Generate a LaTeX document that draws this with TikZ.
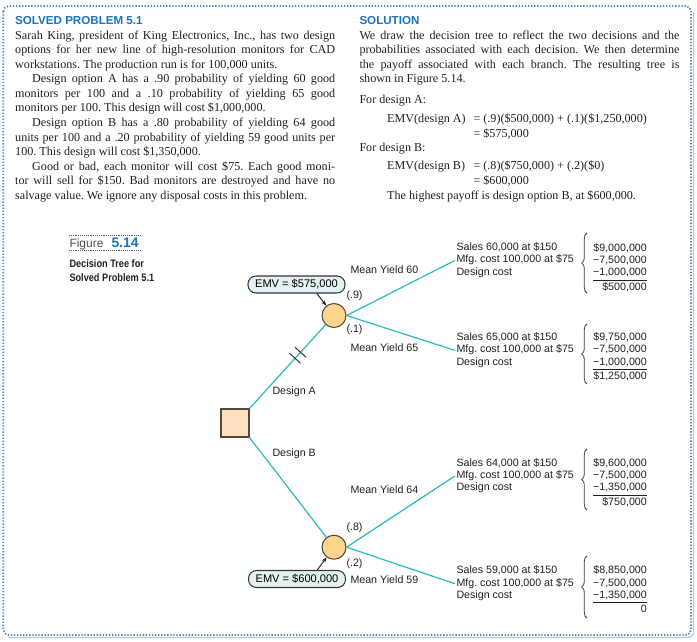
\documentclass[tikz,border=0pt]{standalone}
\usepackage{fontspec}
\setmainfont{Liberation Serif}
\setsansfont{Liberation Sans}
\newfontfamily\capfont[FakeStretch=0.85]{Liberation Sans}
\usetikzlibrary{arrows.meta,decorations.pathreplacing}
\frenchspacing

\newcommand{\outcome}[1]{\begin{tabular}[t]{@{}l@{}}Sales #1 at \$150\\Mfg. cost 100,000 at \$75\\Design cost\end{tabular}}
\newcommand{\payoff}[4]{\begin{tabular}[t]{@{}r@{}}#1\\#2\\#3\\\hline\rule{0pt}{7.5pt}#4\end{tabular}}

\tikzset{every picture/.style={line width=0.75pt}}
\tikzset{
  branch/.style={color={rgb, 255:red, 43; green, 187; blue, 181 }, line width=0.9pt},
  chance/.style={circle, draw={rgb, 255:red, 85; green, 72; blue, 60 }, fill={rgb, 255:red, 253; green, 213; blue, 140 }, minimum size=18pt, inner sep=0pt, line width=0.8pt},
  decision/.style={rectangle, draw={rgb, 255:red, 85; green, 72; blue, 60 }, fill={rgb, 255:red, 253; green, 224; blue, 192 }, minimum size=21pt, inner sep=0pt, line width=0.8pt},
  emvbox/.style={rectangle, rounded corners=6pt, draw={rgb, 255:red, 55; green, 55; blue, 55 }, fill={rgb, 255:red, 226; green, 242; blue, 242 }, minimum width=72.75pt, minimum height=12.75pt, inner sep=0pt, line width=0.8pt, font=\sffamily\fontsize{8.3}{9}\selectfont},
  treetext/.style={inner sep=0.75pt, font=\sffamily\fontsize{8}{9.3}\selectfont, color={rgb, 255:red, 35; green, 31; blue, 32 }},
  bodytext/.style={inner sep=0pt, font=\fontsize{9.1}{10.9}\selectfont, color={rgb, 255:red, 35; green, 31; blue, 32 }},
  headtext/.style={inner sep=0pt, font=\sffamily\bfseries\fontsize{8.7}{10}\selectfont, color={rgb, 255:red, 24; green, 115; blue, 190 }},
  bracestyle/.style={decorate, decoration={brace, amplitude=4pt}, color={rgb, 255:red, 60; green, 60; blue, 60 }, line width=0.6pt}
}

\begin{document}
\begin{tikzpicture}[x=0.75pt,y=0.75pt,yscale=-1,xscale=1]
\useasboundingbox (0,0) rectangle (697,642);

%Shape: Rectangle (dotted frame)
\draw [color={rgb, 255:red, 200; green, 200; blue, 200 }, line width=1pt] (8,637.5) -- (690,637.5) -- (693.5,634) -- (693.5,12) ;
\draw [color={rgb, 255:red, 70; green, 140; blue, 205 }, line width=1.3pt, dash pattern={on 1pt off 1.3pt}, rounded corners=4pt] (3.3,6) rectangle (691,635) ;

% Text Node
\node (probhead) [headtext, anchor=base west] at (14.7,25) {SOLVED PROBLEM 5.1};
% Text Node
\node (probtext) [bodytext, anchor=base west] at (14.7,39.3) {\begin{minipage}[t]{240pt}\setlength\parindent{12.75pt}\noindent
Sarah King, president of King Electronics, Inc., has two design\linebreak options for her new line of high-resolution monitors for CAD\linebreak workstations. The production run is for 100,000 units.\par
Design option A has a .90 probability of yielding 60 good\linebreak monitors per 100 and a .10 probability of yielding 65 good\linebreak monitors per 100. This design will cost \$1,000,000.\par
Design option B has a .80 probability of yielding 64 good\linebreak units per 100 and a .20 probability of yielding 59 good units per\linebreak 100. This design will cost \$1,350,000.\par
Good or bad, each monitor will cost \$75. Each good moni-\linebreak tor will sell for \$150. Bad monitors are destroyed and have no\linebreak salvage value. We ignore any disposal costs in this problem.
\end{minipage}};

% Text Node
\node (solhead) [headtext, anchor=base west] at (359,25) {SOLUTION};
% Text Node
\node (soltext) [bodytext, anchor=base west] at (359,39.3) {\begin{minipage}[t]{240pt}\noindent
We draw the decision tree to reflect the two decisions and the\linebreak probabilities associated with each decision. We then determine\linebreak the payoff associated with each branch. The resulting tree is\linebreak shown in Figure 5.14.
\end{minipage}};
% Text Node
\node (fordesA) [bodytext, anchor=base west] at (359,104) {For design A:};
\node (emvAlhs) [bodytext, anchor=base west] at (386.7,122.7) {EMV(design A)};
\node (emvArhs) [bodytext, anchor=base west] at (473,122.7) {= (.9)(\$500,000) + (.1)(\$1,250,000)};
\node (emvAres) [bodytext, anchor=base west] at (473,137.3) {= \$575,000};
% Text Node
\node (fordesB) [bodytext, anchor=base west] at (359,151.7) {For design B:};
\node (emvBlhs) [bodytext, anchor=base west] at (386.7,170) {EMV(design B)};
\node (emvBrhs) [bodytext, anchor=base west] at (473,170) {= (.8)(\$750,000) + (.2)(\$0)};
\node (emvBres) [bodytext, anchor=base west] at (473,185) {= \$600,000};
% Text Node
\node (highest) [bodytext, anchor=base west] at (386.7,199.3) {The highest payoff is design option B, at \$600,000.};

%Straight Lines (figure caption rules)
\draw [color={rgb, 255:red, 90; green, 90; blue, 90 }, line width=0.6pt, dash pattern={on 0.6pt off 0.8pt}] (69,235) -- (140,235) ;
\draw [color={rgb, 255:red, 90; green, 90; blue, 90 }, line width=0.6pt, dash pattern={on 0.6pt off 0.8pt}] (69,250) -- (140,250) ;
% Text Node
\node (figword) [inner sep=0pt, anchor=base west, font=\sffamily\fontsize{9}{10}\selectfont, color={rgb, 255:red, 80; green, 80; blue, 80 }] at (69,247) {Figure};
\node (fignum) [inner sep=0pt, anchor=base west, font=\sffamily\bfseries\fontsize{10.4}{11}\selectfont, color={rgb, 255:red, 24; green, 115; blue, 190 }] at (111,247) {5.14};
% Text Node
\node (figtitle) [inner sep=0pt, anchor=base west, font=\capfont\bfseries\fontsize{8.1}{10.7}\selectfont, color={rgb, 255:red, 35; green, 31; blue, 32 }] at (69,267.7) {\begin{tabular}[t]{@{}l@{}}Decision Tree for\\Solved Problem 5.1\end{tabular}};

%Shape: Square
\node (dec) [decision] at (235,423) {};
%Shape: Circle
\node (chA) [chance] at (334,315.5) {};
\node (chB) [chance] at (334,547.2) {};

% Text Node
\node (outA1) [treetext, anchor=base west] at (455,250.5) {\outcome{60,000}};
\node (outA2) [treetext, anchor=base west] at (455,340.5) {\outcome{65,000}};
\node (outB1) [treetext, anchor=base west] at (455,466) {\outcome{64,000}};
\node (outB2) [treetext, anchor=base west] at (455,573.8) {\outcome{59,000}};

% Text Node
\node (payA1) [treetext, anchor=base east] at (648.3,251) {\payoff{\$9,000,000}{−7,500,000}{−1,000,000}{\$500,000}};
\node (payA2) [treetext, anchor=base east] at (648.3,340.5) {\payoff{\$9,750,000}{−7,500,000}{−1,000,000}{\$1,250,000}};
\node (payB1) [treetext, anchor=base east] at (648.3,466) {\payoff{\$9,600,000}{−7,500,000}{−1,350,000}{\$750,000}};
\node (payB2) [treetext, anchor=base east] at (648.3,573.8) {\payoff{\$8,850,000}{−7,500,000}{−1,350,000}{0}};

%Shape: Brace
\draw [bracestyle] (587,293) -- (587,233) ;
\draw [bracestyle] (587,384) -- (587,324) ;
\draw [bracestyle] (587,510) -- (587,449) ;
\draw [bracestyle] (587,618) -- (587,556) ;

%Straight Lines
\draw [branch] (dec.north east) -- (chA) ;
\draw [branch] (dec.south east) -- (chB) ;
\draw [branch] (chA.east) -- (outA1.west) ;
\draw [branch] (chA.east) -- (outA2.west) ;
\draw [branch] (chB.east) -- (outB1.west) ;
\draw [branch] (chB.east) -- (outB2.west) ;

%Straight Lines (blocked branch marks)
\draw [color={rgb, 255:red, 40; green, 40; blue, 40 }, line width=0.7pt] (289.5,353.3) -- (300.6,363.3) ;
\draw [color={rgb, 255:red, 40; green, 40; blue, 40 }, line width=0.7pt] (295,347.3) -- (306.1,357.3) ;

% Text Node
\node (desA) [treetext, anchor=west] at (271,391.7) {Design A};
\node (desB) [treetext, anchor=west] at (271,453.3) {Design B};
\node (yld60) [treetext, anchor=west] at (349,269.3) {Mean Yield 60};
\node (yld65) [treetext, anchor=west] at (349,347.3) {Mean Yield 65};
\node (yld64) [treetext, anchor=west] at (349,490) {Mean Yield 64};
\node (yld59) [treetext, anchor=west] at (349,580) {Mean Yield 59};
\node (pA1) [treetext, anchor=west] at (345,296) {(.9)};
\node (pA2) [treetext, anchor=west] at (345,330) {(.1)};
\node (pB1) [treetext, anchor=west] at (345,527.7) {(.8)};
\node (pB2) [treetext, anchor=west] at (345,563.3) {(.2)};

%Rounded Rect
\node (emvA) [emvbox] at (296.5,284.5) {EMV = \$575,000};
\node (emvB) [emvbox] at (297,579) {EMV = \$600,000};
%Straight Lines
\draw [-{Stealth[length=4pt,width=3pt]}, color={rgb, 255:red, 35; green, 31; blue, 32 }, line width=0.7pt] (emvA.-24) -- (chA) ;
\draw [-{Stealth[length=4pt,width=3pt]}, color={rgb, 255:red, 35; green, 31; blue, 32 }, line width=0.7pt] (emvB.24) -- (chB) ;

\end{tikzpicture}
\end{document}
